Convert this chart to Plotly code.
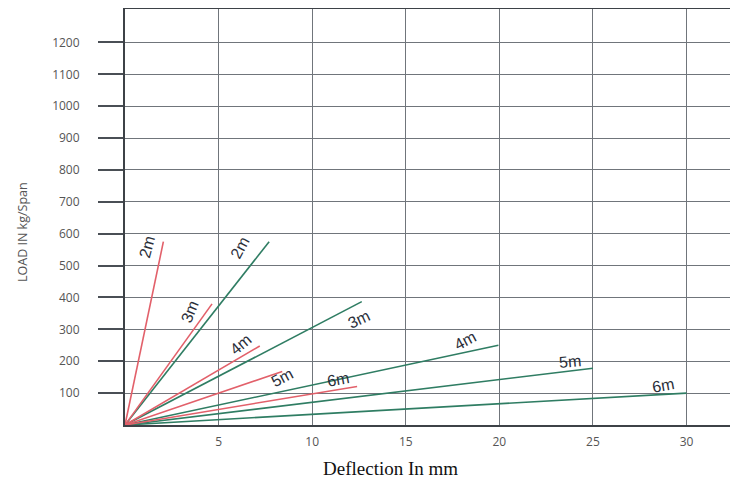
import plotly.graph_objects as go

spans = ["2m", "3m", "4m", "5m", "6m"]
red_deflection = [2.05, 4.65, 7.2, 8.4, 12.4]
red_load = [575, 380, 248, 168, 121]
green_deflection = [7.7, 12.65, 19.95, 25.0, 30.0]
green_load = [575, 387, 250, 178, 100]

x_ticks = [5, 10, 15, 20, 25, 30]
y_ticks = [100, 200, 300, 400, 500, 600, 700, 800, 900, 1000, 1100, 1200]

RED = "#e2606a"
GREEN = "#2f7d63"

# label offsets (px) and angles relative to line ends
red_lbl = [(-16, -5, -75), (-22, -8, -68), (-19, 1, -40), (0, -6, -28), (-19, 7, -10)]
green_lbl = [(-29, -6, -62), (-3, -18, -25), (-33, 5, -28), (-23, 7, -5), (-24, 8, -10)]

LBL_FONT = dict(family="Liberation Sans Narrow, Liberation Sans", size=16, color="#2b2f3a")

fig = go.Figure()
for name, dx, ld in zip(spans, green_deflection, green_load):
    fig.add_trace(go.Scatter(x=[0, dx], y=[0, ld], mode="lines",
                             line=dict(color=GREEN, width=1.6), name=name, showlegend=False))
for name, dx, ld in zip(spans, red_deflection, red_load):
    fig.add_trace(go.Scatter(x=[0, dx], y=[0, ld], mode="lines",
                             line=dict(color=RED, width=1.6), name=name, showlegend=False))

annotations = []
for name, dx, ld, (xs, ys, ang) in zip(spans, red_deflection, red_load, red_lbl):
    annotations.append(dict(x=dx, y=ld, text=name, showarrow=False, xshift=xs, yshift=ys,
                            textangle=ang, font=LBL_FONT))
for name, dx, ld, (xs, ys, ang) in zip(spans, green_deflection, green_load, green_lbl):
    annotations.append(dict(x=dx, y=ld, text=name, showarrow=False, xshift=xs, yshift=ys,
                            textangle=ang, font=LBL_FONT))

PW, PH = 613, 416
annotations.append(dict(xref="paper", yref="paper", x=(390 - 125) / PW, y=-43 / PH,
                        text="Deflection In mm", showarrow=False, xanchor="center", yanchor="middle",
                        font=dict(family="Liberation Serif, Times New Roman", size=19, color="#111")))
annotations.append(dict(xref="paper", yref="paper", x=-103 / PW, y=(425 - 232) / PH,
                        text="LOAD IN kg/Span", showarrow=False, textangle=-90,
                        xanchor="center", yanchor="middle",
                        font=dict(family="Open Sans, DejaVu Sans", size=12.5, color="#555")))

# page body has an 8px margin, so the figure is offset by 8px
fig.update_layout(
    width=730, height=474,
    margin=dict(l=117, r=0, t=1, b=57),
    paper_bgcolor="white", plot_bgcolor="white",
    annotations=annotations,
    showlegend=False,
)
fig.update_xaxes(range=[0, 32.75], tickvals=x_ticks, ticktext=[str(v) for v in x_ticks],
                 showgrid=True, gridcolor="#70757b", gridwidth=1.2,
                 showline=True, linecolor="#3d4247", linewidth=2, mirror=True,
                 ticks="", ticklabelstandoff=5, zeroline=False,
                 tickfont=dict(family="Open Sans, DejaVu Sans", size=12, color="#555"))
fig.update_yaxes(range=[0, 1305], tickvals=y_ticks, ticktext=[str(v) for v in y_ticks],
                 showgrid=True, gridcolor="#70757b", gridwidth=1.2,
                 showline=True, linecolor="#3d4247", linewidth=2,
                 ticks="outside", ticklen=25, tickwidth=2, tickcolor="#4a4f55",
                 ticklabelstandoff=16, zeroline=False,
                 tickfont=dict(family="Open Sans, DejaVu Sans", size=12, color="#555"))

fig.write_html("out.html")
